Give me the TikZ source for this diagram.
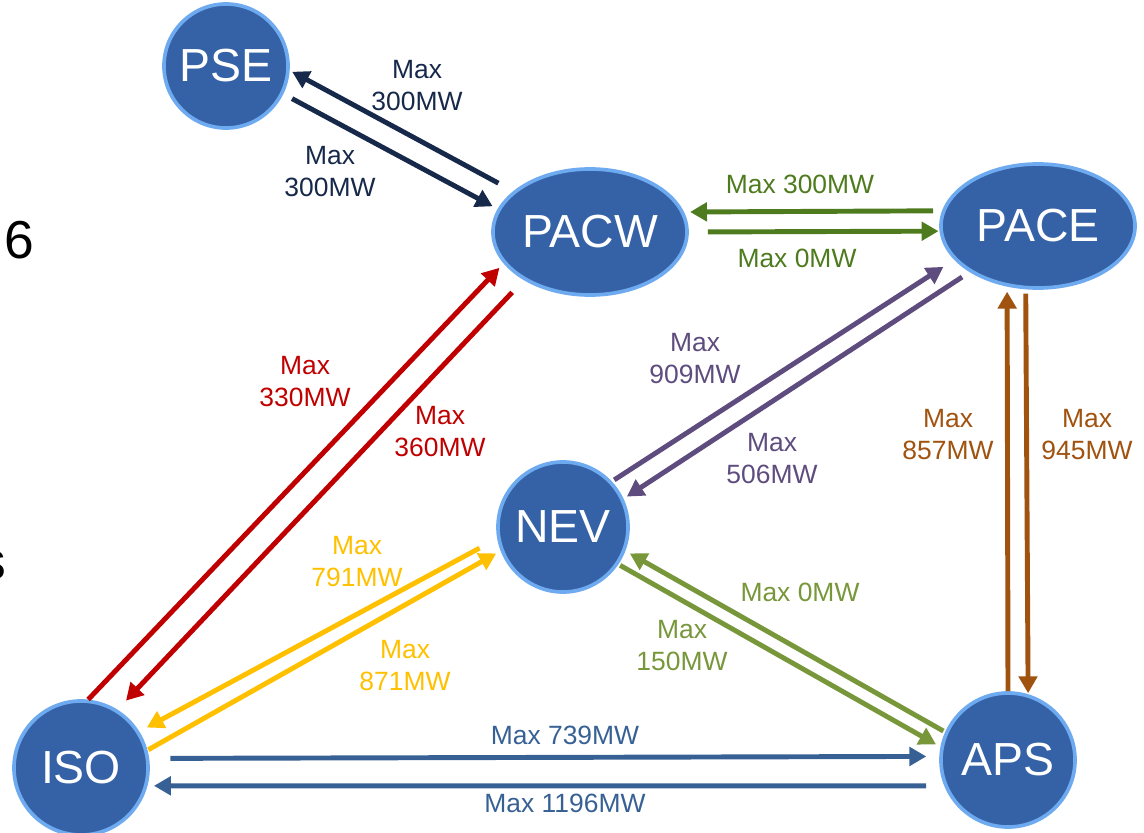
\documentclass[tikz,border=0pt]{standalone}
\usepackage{fontspec}
\setmainfont{Liberation Sans}
\usetikzlibrary{shapes.geometric,arrows.meta}

\definecolor{areablue}{HTML}{3562A6}
\definecolor{arearim}{HTML}{6EAAF0}
\definecolor{navyflow}{HTML}{17294A}
\definecolor{greenflow}{HTML}{4F7B1F}
\definecolor{purpleflow}{HTML}{5E4C7E}
\definecolor{brownflow}{HTML}{A0520F}
\definecolor{oliveflow}{HTML}{77973A}
\definecolor{goldflow}{HTML}{FFC000}
\definecolor{redflow}{HTML}{C00000}
\definecolor{blueflow}{HTML}{376194}

\tikzset{
  area/.style={circle, fill=areablue, draw=arearim, line width=2.6pt, text=white,
    inner sep=0pt, font=\fontsize{33}{40}\selectfont},
  widearea/.style={area, ellipse},
  flow/.style={line width=3.5pt, -{Triangle[length=12pt,width=13pt]}},
  maxlabel/.style={align=center, font=\fontsize{18.8}{22.8}\selectfont},
}

\begin{document}
\begin{tikzpicture}[x=0.025cm, y=-0.025cm]
    \useasboundingbox (0,0) rectangle (1144,833);

    % Cut-off text at the left margin
    \node[font=\fontsize{38}{44}\selectfont] (six) at (19,240) {6};
    \node[font=\fontsize{38}{44}\selectfont, inner sep=0pt, anchor=east] (ess) at (6,565) {s};

    % Areas
    \node[area, minimum size=3.1cm] (PSE) at (226,66) {PSE};
    \node[widearea, minimum width=4.85cm, minimum height=3.15cm] (PACW) at (590,232) {PACW};
    \node[widearea, minimum width=4.85cm, minimum height=3.1cm] (PACE) at (1038,226) {PACE};
    \node[area, minimum size=3.25cm] (NEV) at (563,527) {NEV};
    \node[area, minimum size=3.35cm] (ISO) at (81,768) {ISO};
    \node[area, minimum size=3.35cm] (APS) at (1008,760) {APS};

    % PSE - PACW
    \draw[flow, navyflow, shorten <=12pt, shorten >=2pt] (PACW.152.9) -- (PSE.-4.3);
    \draw[flow, navyflow, shorten <=7pt, shorten >=4pt] (PSE.-26.9) -- (PACW.166.4);
    \node[maxlabel, text=navyflow] (l1) at (417,86) {Max\\300MW};
    \node[maxlabel, text=navyflow] (l2) at (330,172) {Max\\300MW};

    % PACW - PACE
    \draw[flow, greenflow, shorten <=6.4pt, shorten >=4.3pt] (PACE.171.2) -- (PACW.12.65);
    \draw[flow, greenflow, shorten <=13.5pt, shorten >=0.7pt] (PACW.0) -- (PACE.183.5);
    \node[maxlabel, text=greenflow] (l3) at (800,184) {Max 300MW};
    \node[maxlabel, text=greenflow] (l4) at (797,258) {Max 0MW};

    % NEV - PACE
    \draw[flow, purpleflow, shorten <=2pt, shorten >=9.2pt] (NEV.43.8) -- (PACE.202.75);
    \draw[flow, purpleflow, shorten <=6.4pt, shorten >=2.8pt] (PACE.214.05) -- (NEV.25.8);
    \node[maxlabel, text=purpleflow] (l5) at (695,359) {Max\\909MW};
    \node[maxlabel, text=purpleflow] (l6) at (772,459) {Max\\506MW};

    % APS - PACE
    \draw[flow, brownflow, shorten >=3.6pt] (APS.90) -- (PACE.243);
    \draw[flow, brownflow, shorten <=3.1pt, shorten >=0.7pt] (PACE.259.9) -- (APS.73.2);
    \node[maxlabel, text=brownflow] (l7) at (948,435) {Max\\857MW};
    \node[maxlabel, text=brownflow] (l8) at (1087,435) {Max\\945MW};

    % NEV - APS
    \draw[flow, oliveflow, shorten <=1.4pt, shorten >=3.6pt] (APS.156) -- (NEV.-21.8);
    \draw[flow, oliveflow, shorten <=1.4pt, shorten >=3.6pt] (NEV.-34.6) -- (APS.169.6);
    \node[maxlabel, text=oliveflow] (l9) at (800,592) {Max 0MW};
    \node[maxlabel, text=oliveflow] (l10) at (682,646) {Max\\150MW};

    % ISO - NEV
    \draw[flow, goldflow, shorten <=14.2pt, shorten >=6pt] (NEV.190.1) -- (ISO.32);
    \draw[flow, goldflow, shorten <=0.7pt, shorten >=3.6pt] (ISO.15.3) -- (NEV.201.8);
    \node[maxlabel, text=goldflow] (l11) at (357,562) {Max\\791MW};
    \node[maxlabel, text=goldflow] (l12) at (405,666) {Max\\871MW};

    % ISO - PACW
    \draw[flow, redflow, shorten >=4.3pt] (ISO.84) -- (PACW.200.1);
    \draw[flow, redflow, shorten <=12pt, shorten >=8.8pt] (PACW.216.2) -- (ISO.58.9);
    \node[maxlabel, text=redflow] (l13) at (305,382) {Max\\330MW};
    \node[maxlabel, text=redflow] (l14) at (440,432) {Max\\360MW};

    % ISO - APS
    \draw[flow, blueflow, shorten <=15pt, shorten >=9.2pt] (ISO.8.6) -- (APS.177.4);
    \draw[flow, blueflow, shorten <=12.8pt, shorten >=4.6pt] (APS.202.8) -- (ISO.-15.6);
    \node[maxlabel, text=blueflow] (l15) at (565,735) {Max 739MW};
    \node[maxlabel, text=blueflow] (l16) at (565,803) {Max 1196MW};
\end{tikzpicture}
\end{document}
